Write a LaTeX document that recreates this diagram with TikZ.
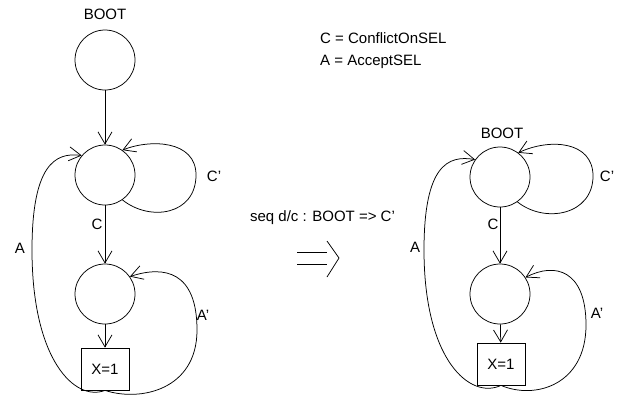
\documentclass[tikz,border=0pt]{standalone}
\usepackage{fontspec}
\setmainfont{Liberation Sans}
\usetikzlibrary{arrows.meta}
\begin{document}
\begin{tikzpicture}[x=1pt,y=-1pt,
  every node/.style={font=\fontsize{15}{18}\selectfont},
  state/.style={draw,circle,minimum size=60pt,inner sep=0pt,line width=0.75pt},
  regbox/.style={draw,rectangle,minimum width=48pt,minimum height=42pt,inner sep=0pt,line width=0.75pt},
  lbl/.style={inner sep=0pt},
  trans/.style={draw,line width=0.75pt,-{Straight Barb[length=12pt,width=14pt,line width=0.75pt]}},
  implies/.style={draw,line width=0.75pt}
]
\useasboundingbox (0,0) rectangle (620,399);

% ---- left machine ----
\node[lbl] (bootL) at (105,14) {BOOT};
\node[state] (a1) at (105,60) {};
\node[state] (a2) at (105,175) {};
\node[state] (a3) at (105,294) {};
\node[regbox] (ax) at (105,369) {X=1};

\draw[trans] (a1) -- (a2);
\draw[trans] (a2) -- (a3);
\draw[trans] (a3) -- (ax);
\draw[trans] (a2.-55) .. controls (150,222) and (196,215) .. (196,175)
                     .. controls (196,140) and (150,139) .. (a2.55);
\draw[trans] (ax.south) .. controls (75,402) and (32,360) .. (32,250)
                        .. controls (32,165) and (55,152) .. (a2.140);
\draw[trans] (ax.south) .. controls (140,402) and (197,390) .. (197,330)
                        .. controls (197,272) and (165,265) .. (a3.35);

\node[lbl] (cpL) at (214,176) {C'};
\node[lbl] (cL)  at (97,224) {C};
\node[lbl] (aL)  at (20,248) {A};
\node[lbl] (apL) at (203,315) {A'};

% ---- legend ----
\node[lbl,anchor=west] (leg1) at (320,38) {C = ConflictOnSEL};
\node[lbl,anchor=west] (leg2) at (320,62) {A = AcceptSEL};

% ---- rewriting step ----
\node[lbl] (rule) at (322.5,218) {seq d/c : BOOT => C'};
\draw[implies] (297,252) -- (327,252);
\draw[implies] (297,264) -- (327,264);
\draw[implies] (327,241) -- (339,258) -- (327,277);

% ---- right machine ----
\node[lbl] (bootR) at (502,133) {BOOT};
\node[state] (b1) at (500,177) {};
\node[state] (b2) at (500,294) {};
\node[regbox] (bx) at (501,364) {X=1};

\draw[trans] (b1) -- (b2);
\draw[trans] (b2) -- (bx);
\draw[trans] (b1.-55) .. controls (545,224) and (593,215) .. (593,176)
                     .. controls (593,141) and (550,138) .. (b1.53);
\draw[trans] (bx.south) .. controls (470,400) and (424,360) .. (424,250)
                        .. controls (424,165) and (448,155) .. (b1.145);
\draw[trans] (bx.south) .. controls (535,400) and (586,385) .. (586,325)
                        .. controls (586,270) and (555,262) .. (b2.33);

\node[lbl] (cpR) at (607,176) {C'};
\node[lbl] (cR)  at (493,224) {C};
\node[lbl] (aR)  at (415,247) {A};
\node[lbl] (apR) at (597,313) {A'};
\end{tikzpicture}
\end{document}
